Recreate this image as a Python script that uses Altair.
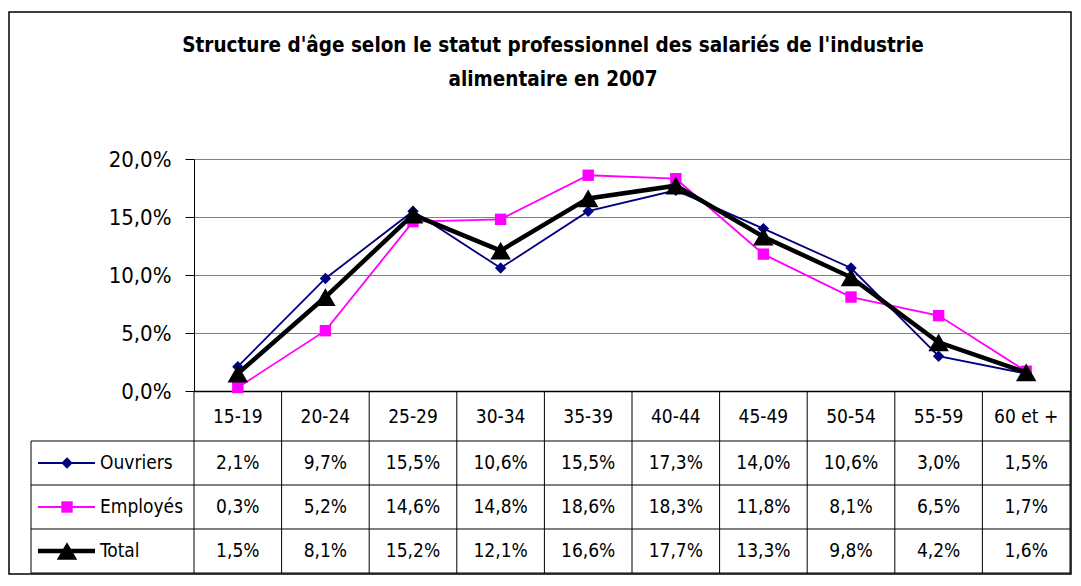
import altair as alt
import pandas as pd

# ---------------- data ----------------
categories = ["15-19", "20-24", "25-29", "30-34", "35-39", "40-44", "45-49", "50-54", "55-59", "60 et +"]
series_names = ["Ouvriers", "Employés", "Total"]
ouvriers = [2.1, 9.7, 15.5, 10.6, 15.5, 17.3, 14.0, 10.6, 3.0, 1.5]
employes = [0.3, 5.2, 14.6, 14.8, 18.6, 18.3, 11.8, 8.1, 6.5, 1.7]
total = [1.5, 8.1, 15.2, 12.1, 16.6, 17.7, 13.3, 9.8, 4.2, 1.6]
y_ticks = [0, 5, 10, 15, 20]
title_lines = [
    "Structure d'âge selon le statut professionnel des salariés de l'industrie",
    "alimentaire en 2007",
]

rows = []
for name, vals in zip(series_names, [ouvriers, employes, total]):
    for c, v in zip(categories, vals):
        rows.append({"cat": c, "serie": name, "value": v,
                     "label": f"{v:.1f}".replace(".", ",") + "%"})
df = pd.DataFrame(rows)

# ---------------- layout / style ----------------
FONT = "DejaVu Sans Condensed, Liberation Sans Narrow, Arial Narrow, sans-serif"
W, H = 876, 232
HEADER_BOTTOM = 282
ROW_H = 44
TABLE_BOTTOM = HEADER_BOTTOM + 3 * ROW_H
LEFT_COL = -163

styles = {
    "Ouvriers": dict(color="#000080", width=1.8, shape="diamond", size=130),
    "Employés": dict(color="#FF00FF", width=1.8, shape="square", size=130),
    "Total": dict(color="#000000", width=4.5, shape="triangle-up", size=420),
}

x_scale = alt.Scale(type="band", domain=categories, paddingInner=0, paddingOuter=0)
x_axis = alt.Axis(title=None, orient="bottom", domainColor="black", domainWidth=1.5,
                  ticks=False, tickSize=0, labelPadding=25, labelBaseline="middle",
                  labelAngle=0, labelFontSize=19, labelFont=FONT, labelColor="black")
x_enc = alt.X("cat:N", sort=categories, scale=x_scale, axis=x_axis)

y_enc = alt.Y("value:Q", scale=alt.Scale(domain=[0, 20], nice=False, zero=True),
              axis=alt.Axis(title=None, values=y_ticks,
                            labelExpr="replace(format(datum.value, '.1f'), '.', ',') + '%'",
                            labelFontSize=22, labelFont=FONT, labelColor="black",
                            labelPadding=14, tickSize=9, tickColor="black",
                            domainColor="black", domainWidth=1,
                            grid=True, gridColor="#808080", gridWidth=1))

row_y = alt.Y("serie:N", scale=alt.Scale(type="band", domain=series_names,
                                         range=[HEADER_BOTTOM, TABLE_BOTTOM],
                                         paddingInner=0, paddingOuter=0),
              axis=None)

one = pd.DataFrame({"k": [0]})

# ---------------- main plot ----------------
main_layers = []
for name in series_names:
    st = styles[name]
    sub = df[df["serie"] == name]
    main_layers.append(
        alt.Chart(sub).mark_line(color=st["color"], strokeWidth=st["width"])
        .encode(x=x_enc, y=y_enc)
    )
    main_layers.append(
        alt.Chart(sub).mark_point(shape=st["shape"], filled=True, size=st["size"],
                                  color=st["color"], opacity=1)
        .encode(x=x_enc, y=y_enc)
    )
main = alt.layer(*main_layers)

# ---------------- data table ----------------
table_layers = [
    alt.Chart(df).mark_text(font=FONT, fontSize=19, color="black",
                            baseline="middle", align="center")
    .encode(x=x_enc, y=row_y, text="label:N")
]
for name in series_names:
    st = styles[name]
    sd = pd.DataFrame({"serie": [name]})
    table_layers.append(
        alt.Chart(sd).mark_rule(color=st["color"], strokeWidth=st["width"])
        .encode(x=alt.value(LEFT_COL + 7), x2=alt.value(LEFT_COL + 64), y=row_y)
    )
    table_layers.append(
        alt.Chart(sd).mark_point(shape=st["shape"], filled=True, size=st["size"],
                                 color=st["color"], opacity=1)
        .encode(x=alt.value(LEFT_COL + 36), y=row_y)
    )
table_layers.append(
    alt.Chart(pd.DataFrame({"serie": series_names}))
    .mark_text(font=FONT, fontSize=19, color="black", align="left", baseline="middle")
    .encode(x=alt.value(LEFT_COL + 69), y=row_y, text="serie:N")
)
table = alt.layer(*table_layers)

# ---------------- decorations (table grid, frame, title) ----------------
deco = []
deco.append(
    alt.Chart(pd.DataFrame({"cat": categories}))
    .mark_rule(color="black", strokeWidth=1)
    .encode(x=alt.X("cat:N", sort=categories, scale=x_scale, axis=x_axis, bandPosition=0),
            y=alt.value(H), y2=alt.value(TABLE_BOTTOM))
)
deco.append(alt.Chart(one).mark_rule(color="black", strokeWidth=1)
            .encode(x=alt.value(W), y=alt.value(H), y2=alt.value(TABLE_BOTTOM)))
for i in range(4):
    yy = HEADER_BOTTOM + i * ROW_H
    deco.append(alt.Chart(one).mark_rule(color="black", strokeWidth=1)
                .encode(x=alt.value(LEFT_COL), x2=alt.value(W), y=alt.value(yy)))
deco.append(alt.Chart(one).mark_rule(color="black", strokeWidth=1)
            .encode(x=alt.value(LEFT_COL), y=alt.value(HEADER_BOTTOM), y2=alt.value(TABLE_BOTTOM)))
deco.append(alt.Chart(one).mark_rect(fillOpacity=0, stroke="black", strokeWidth=1.5)
            .encode(x=alt.value(-185), y=alt.value(-147), x2=alt.value(877), y2=alt.value(415)))
for i, line in enumerate(title_lines):
    deco.append(alt.Chart(pd.DataFrame({"t": [line]}))
                .mark_text(font=FONT, fontSize=20.5, fontWeight="bold", color="black",
                           align="center", baseline="middle")
                .encode(x=alt.value(359), y=alt.value(-113 + 34 * i), text="t:N"))
decorations = alt.layer(*deco)

chart = (
    alt.layer(main, table, decorations)
    .resolve_scale(y="independent")
    .properties(width=W, height=H,
                padding={"left": 186, "top": 151, "right": 3, "bottom": 185},
                autosize=alt.AutoSizeParams(type="none"))
    .configure_view(stroke="#808080", strokeWidth=1.5)
    .configure(background="white")
)

chart.save("out.html", embed_options={"renderer": "svg", "actions": False})
